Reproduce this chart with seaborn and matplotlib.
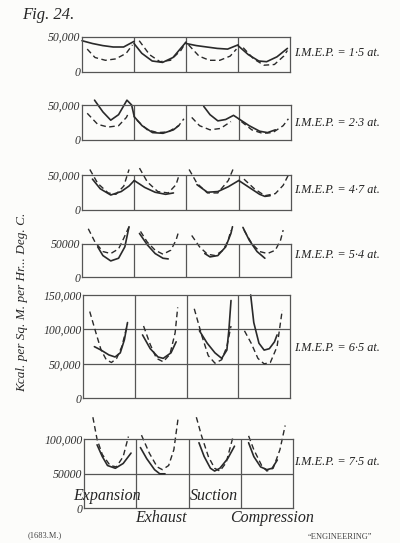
#!/usr/bin/env python3
"""
Fig. 24 - heat transfer coefficient over the four strokes, six loads.
Solid / dashed curves per stroke, values in thousands of kcal/m2/hr/degC.
"""

import matplotlib
matplotlib.use("Agg")
import matplotlib.pyplot as plt
import seaborn as sns

W, H = 400, 543

strokes = ["Expansion", "Exhaust", "Suction", "Compression"]
imep_labels = [
    "I.M.E.P. = 1·5 at.",
    "I.M.E.P. = 2·3 at.",
    "I.M.E.P. = 4·7 at.",
    "I.M.E.P. = 5·4 at.",
    "I.M.E.P. = 6·5 at.",
    "I.M.E.P. = 7·5 at.",
]

# each entry: (x within stroke 0..1, kcal in thousands) for the 4 strokes
p1_solid = [
    ([0.0, 0.2, 0.4, 0.6, 0.8, 1.0], [44, 40, 37, 35, 35, 43]),
    ([0.0, 0.15, 0.35, 0.55, 0.75, 1.0], [40, 26, 15, 13, 20, 42]),
    ([0.0, 0.2, 0.4, 0.6, 0.8, 1.0], [40, 37, 35, 33, 32, 38]),
    ([0.0, 0.2, 0.4, 0.55, 0.75, 0.95], [37, 24, 15, 14, 21, 33]),
]
p1_dashed = [
    ([0.1, 0.25, 0.45, 0.65, 0.85, 0.97], [32, 20, 16, 18, 26, 38]),
    ([0.1, 0.3, 0.5, 0.7, 0.9, 1.0], [44, 24, 14, 16, 30, 42]),
    ([0.05, 0.25, 0.45, 0.65, 0.85, 0.97], [38, 22, 16, 16, 22, 32]),
    ([0.1, 0.3, 0.5, 0.7, 0.88, 0.95], [34, 18, 9, 10, 22, 30]),
]

p2_solid = [
    ([0.24, 0.4, 0.55, 0.7, 0.86, 0.95, 1.0], [57, 40, 28, 36, 57, 50, 33]),
    ([0.0, 0.15, 0.35, 0.55, 0.75, 0.85], [33, 20, 10, 9, 14, 20]),
    ([0.33, 0.45, 0.6, 0.75, 0.9, 1.0], [48, 36, 27, 29, 35, 30]),
    ([0.0, 0.2, 0.4, 0.55, 0.7], [30, 20, 12, 10, 14]),
]
p2_dashed = [
    ([0.1, 0.3, 0.5, 0.7, 0.85, 0.9], [38, 22, 18, 20, 32, 40]),
    ([0.05, 0.25, 0.45, 0.65, 0.85, 0.95], [28, 14, 10, 11, 20, 30]),
    ([0.1, 0.25, 0.45, 0.65, 0.85], [32, 20, 14, 16, 26]),
    ([0.05, 0.25, 0.45, 0.65, 0.85, 0.95], [26, 14, 9, 10, 20, 30]),
]

p3_solid = [
    ([0.2, 0.35, 0.55, 0.75, 0.9, 1.0], [44, 30, 21, 26, 34, 42]),
    ([0.0, 0.2, 0.4, 0.6, 0.75], [42, 32, 25, 22, 24]),
    ([0.2, 0.4, 0.6, 0.8, 1.0], [36, 25, 26, 33, 42]),
    ([0.0, 0.2, 0.4, 0.5, 0.6], [42, 32, 22, 19, 20]),
]
p3_dashed = [
    ([0.15, 0.3, 0.5, 0.65, 0.8, 0.9], [58, 38, 24, 22, 34, 58]),
    ([0.1, 0.25, 0.45, 0.65, 0.8, 0.85], [60, 40, 26, 24, 36, 48]),
    ([0.05, 0.2, 0.4, 0.6, 0.8, 0.9], [58, 38, 24, 24, 42, 60]),
    ([0.1, 0.3, 0.5, 0.7, 0.85, 0.95], [44, 30, 20, 23, 35, 50]),
]

p4_solid = [
    ([0.3, 0.4, 0.55, 0.7, 0.82, 0.9], [45, 32, 24, 28, 45, 75]),
    ([0.1, 0.25, 0.4, 0.55, 0.65], [65, 48, 35, 28, 27]),
    ([0.35, 0.45, 0.6, 0.75, 0.85, 0.88], [35, 30, 32, 45, 65, 75]),
    ([0.08, 0.2, 0.35, 0.5], [74, 55, 38, 28]),
]
p4_dashed = [
    ([0.12, 0.25, 0.4, 0.55, 0.7, 0.8, 0.9], [72, 52, 38, 35, 42, 58, 75]),
    ([0.12, 0.25, 0.4, 0.55, 0.7, 0.8, 0.85], [68, 52, 40, 34, 40, 55, 68]),
    ([0.1, 0.25, 0.4, 0.55, 0.7, 0.8, 0.85], [62, 45, 34, 32, 40, 55, 70]),
    ([0.1, 0.25, 0.4, 0.55, 0.7, 0.8, 0.85], [70, 50, 38, 35, 40, 55, 70]),
]

p5_solid = [
    ([0.22, 0.35, 0.5, 0.62, 0.72, 0.8, 0.86], [75, 70, 63, 60, 66, 85, 110]),
    ([0.15, 0.3, 0.45, 0.55, 0.7, 0.8], [92, 72, 60, 58, 66, 82]),
    ([0.25, 0.4, 0.55, 0.68, 0.78, 0.82, 0.86], [98, 80, 66, 58, 70, 100, 142]),
    ([0.24, 0.3, 0.4, 0.5, 0.6, 0.7, 0.75], [150, 110, 80, 70, 72, 82, 92]),
]
p5_dashed = [
    ([0.13, 0.25, 0.35, 0.45, 0.55, 0.65, 0.75, 0.86], [126, 95, 70, 56, 52, 58, 75, 108]),
    ([0.17, 0.3, 0.42, 0.55, 0.68, 0.78, 0.83], [105, 78, 58, 53, 64, 95, 132]),
    ([0.15, 0.3, 0.42, 0.55, 0.68, 0.78, 0.86], [130, 90, 62, 51, 56, 75, 105]),
    ([0.12, 0.25, 0.38, 0.5, 0.62, 0.75, 0.85], [98, 80, 58, 50, 52, 75, 128]),
]

p6_solid = [
    ([0.25, 0.35, 0.45, 0.6, 0.75, 0.9], [92, 75, 62, 58, 65, 80]),
    ([0.08, 0.2, 0.35, 0.45, 0.55], [88, 72, 56, 50, 50]),
    ([0.2, 0.3, 0.42, 0.5, 0.6, 0.75, 0.88], [95, 75, 58, 54, 58, 72, 90]),
    ([0.15, 0.25, 0.38, 0.5, 0.6, 0.7], [95, 75, 60, 56, 58, 70]),
]
p6_dashed = [
    ([0.17, 0.25, 0.35, 0.5, 0.62, 0.75, 0.85], [132, 100, 78, 62, 60, 75, 104]),
    ([0.1, 0.25, 0.4, 0.5, 0.62, 0.72, 0.8], [106, 80, 60, 56, 62, 85, 130]),
    ([0.15, 0.25, 0.38, 0.5, 0.6, 0.72, 0.85], [132, 105, 75, 58, 54, 66, 103]),
    ([0.15, 0.25, 0.4, 0.5, 0.62, 0.75, 0.85], [105, 85, 62, 54, 58, 85, 120]),
]

# panel layout: box in pixels (left, top, right, bottom), y range, tick labels
panels = [
    (p1_solid, p1_dashed, (82, 36.5, 290, 71.5), 50000, [0, 50000], ["0", "50,000"]),
    (p2_solid, p2_dashed, (82, 105, 291, 139.5), 50000, [0, 50000], ["0", "50,000"]),
    (p3_solid, p3_dashed, (82, 175, 291, 209.5), 50000, [0, 50000], ["0", "50,000"]),
    (p4_solid, p4_dashed, (82, 243.5, 291, 277), 50000, [0, 50000], ["0", "50000"]),
    (p5_solid, p5_dashed, (83, 295, 290, 398.3), 150000,
     [0, 50000, 100000, 150000], ["0", "50,000", "100,000", "150,000"]),
    (p6_solid, p6_dashed, (84, 439.3, 293, 508.3), 100000,
     [0, 50000, 100000], ["0", "50000", "100,000"]),
]
label_y = [53, 123, 190, 255, 348, 462]

INK = "#2a2a2a"
FRAME = "#555555"
SERIF = "Liberation Serif"

sns.set_style("white")
plt.rcParams["font.family"] = [SERIF, "DejaVu Serif"]

fig = plt.figure(figsize=(W / 100, H / 100), dpi=100)
fig.patch.set_facecolor("#fcfcfa")


def px(x, y):
    return x / W, 1 - y / H


for (solid, dashed, box, ymax, ticks, tlabels), lab, ly in zip(panels, imep_labels, label_y):
    l, t, r, b = box
    ax = fig.add_axes([l / W, 1 - b / H, (r - l) / W, (b - t) / H])
    ax.set_facecolor("none")
    ax.set_xlim(0, 4)
    ax.set_ylim(0, ymax)
    for s in ax.spines.values():
        s.set_color(FRAME)
        s.set_linewidth(0.9)
    for c in (1, 2, 3):
        ax.axvline(c, color=FRAME, lw=0.9)
    for tk in ticks[1:-1]:
        ax.axhline(tk, color=FRAME, lw=0.9)
    ax.set_xticks([])
    ax.set_yticks(ticks)
    ax.set_yticklabels(tlabels, fontsize=8.5, fontstyle="italic", color="#333333")
    ax.tick_params(axis="y", length=0, pad=1)

    for c, (xs, ys) in enumerate(solid):
        sns.lineplot(x=[c + v for v in xs], y=[v * 1000 for v in ys], ax=ax,
                     color=INK, lw=1.2, clip_on=False, estimator=None, sort=False,
                     solid_joinstyle="round")
    for c, (xs, ys) in enumerate(dashed):
        sns.lineplot(x=[c + v for v in xs], y=[v * 1000 for v in ys], ax=ax,
                     color=INK, lw=1.0, linestyle=(0, (4, 2.5)), clip_on=False,
                     estimator=None, sort=False)

    fig.text(*px(294, ly), lab, fontsize=8.8, fontstyle="italic", color="#222222",
             va="center", ha="left")

# stroke names round the last panel
fig.text(*px(73, 496), strokes[0], fontsize=11.5, fontstyle="italic", va="center")
fig.text(*px(135, 518), strokes[1], fontsize=11.5, fontstyle="italic", va="center")
fig.text(*px(190, 496), strokes[2], fontsize=11.5, fontstyle="italic", va="center")
fig.text(*px(230, 518), strokes[3], fontsize=11.5, fontstyle="italic", va="center")

fig.text(*px(22, 15), "Fig. 24.", fontsize=12, fontstyle="italic", va="center")
fig.text(*px(22, 302), "Kcal. per Sq. M. per Hr... Deg. C.", fontsize=9.5,
         fontstyle="italic", rotation=90, va="center", ha="center")
fig.text(*px(28, 535), "(1683.M.)", fontsize=6, va="center", color="#444444")
fig.text(*px(308, 537), "\u201cENGINEERING\u201d", fontsize=6, va="center", color="#444444")

fig.savefig("out.png", dpi=100, facecolor=fig.get_facecolor())
